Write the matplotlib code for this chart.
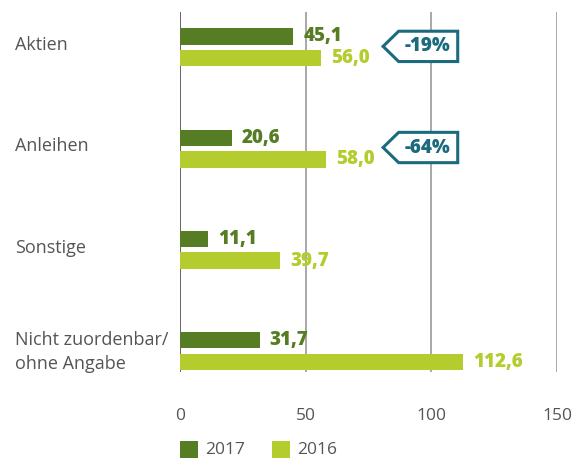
import matplotlib
matplotlib.use("Agg")
import matplotlib.pyplot as plt
from matplotlib.patches import Polygon, Rectangle

categories = ["Aktien", "Anleihen", "Sonstige", "Nicht zuordenbar/\nohne Angabe"]
values_2017 = [45.1, 20.6, 11.1, 31.7]
values_2016 = [56.0, 58.0, 39.7, 112.6]
changes = ["-19%", "-64%", None, None]
x_ticks = [0, 50, 100, 150]
years = ["2017", "2016"]

c2017 = "#567d23"
c2016 = "#b5cc2e"
teal = "#1b6a7d"
grey_text = "#555555"

plt.rcParams["font.family"] = ["Open Sans", "DejaVu Sans"]

fig = plt.figure(figsize=(5.77, 4.62), dpi=100)
ax = fig.add_axes([180 / 577, 1 - 372 / 462, 377 / 577, 360 / 462])

bar_h = 0.16
off = 0.108
for i, cat in enumerate(categories):
    ax.barh(i - off, values_2017[i], height=bar_h, color=c2017, zorder=3)
    ax.barh(i + off, values_2016[i], height=bar_h, color=c2016, zorder=3)
    ax.text(values_2017[i] + 4, i - off, f"{values_2017[i]:.1f}".replace(".", ","),
            color=c2017, fontsize=13.5, fontweight="heavy", va="center", ha="left", zorder=4)
    ax.text(values_2016[i] + 4, i + off, f"{values_2016[i]:.1f}".replace(".", ","),
            color=c2016, fontsize=13.5, fontweight="heavy", va="center", ha="left", zorder=4)

# category labels on the left
for i, cat in enumerate(categories):
    lines = cat.split("\n")
    if len(lines) == 1:
        fig.text(15 / 577, 1 - (45 + 101.3 * i) / 462, cat, fontsize=13,
                 color=grey_text, va="center", ha="left")
    else:
        fig.text(15 / 577, 1 - 352 / 462, cat, fontsize=13,
                 color=grey_text, va="center", ha="left", linespacing=1.4)

# percentage change tags
for i, ch in enumerate(changes):
    if ch is None:
        continue
    yc = i - 0.01
    h = 0.15
    xl, xb, xr = 80.8, 87.0, 110.5
    tag = Polygon([(xl, yc), (xb, yc - h), (xr, yc - h), (xr, yc + h), (xb, yc + h)],
                  closed=True, facecolor="white", edgecolor=teal, linewidth=2.2, zorder=5)
    ax.add_patch(tag)
    ax.text((xb + xr) / 2 - 0.3, yc, ch, color=teal, fontsize=13.5, fontweight="heavy",
            ha="center", va="center", zorder=6)

ax.set_xlim(0, 150)
ax.set_ylim(3.21, -0.35)
for xv in x_ticks:
    ax.axvline(xv, color="#4a4a4a" if xv == 0 else "#9a9a9a", linewidth=1.2, zorder=1)
ax.set_xticks(x_ticks)
ax.set_xticklabels([str(t) for t in x_ticks], fontsize=12.5, color=grey_text)
ax.tick_params(axis="x", length=0, pad=26)
ax.set_yticks([])
for s in ax.spines.values():
    s.set_visible(False)

# legend
leg_y = 1 - 458 / 462
sq_w, sq_h = 18 / 577, 17 / 462
for xpx, col, lab in [(180, c2017, years[0]), (272, c2016, years[1])]:
    fig.patches.append(Rectangle((xpx / 577, leg_y), sq_w, sq_h, transform=fig.transFigure,
                                 facecolor=col, edgecolor="none"))
    fig.text((xpx + 25) / 577, leg_y + sq_h / 2, lab, fontsize=12.5, color=grey_text,
             va="center", ha="left")

fig.savefig("out.png", dpi=100)
